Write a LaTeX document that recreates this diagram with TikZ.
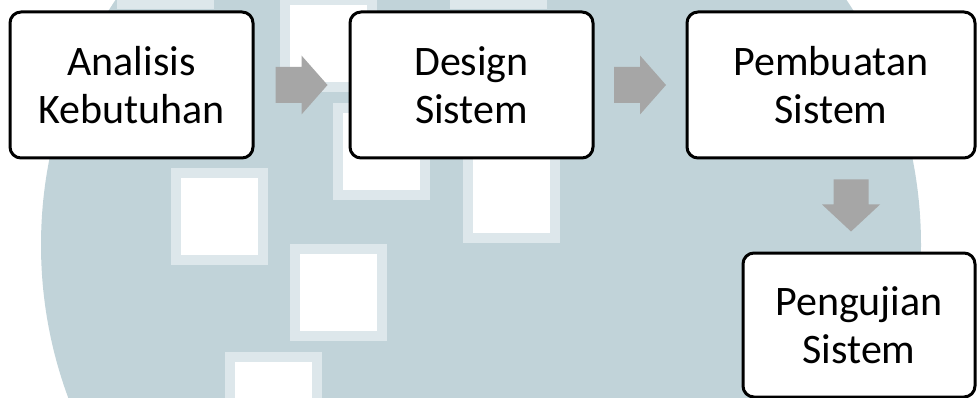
\documentclass[tikz,border=0pt]{standalone}
\usepackage{fontspec}
\setmainfont{Carlito}
\usetikzlibrary{calc}
\definecolor{wmblue}{RGB}{193,211,217}
\definecolor{wmfringe}{RGB}{221,231,235}
\definecolor{arrowgray}{RGB}{166,166,166}

\begin{document}
\begin{tikzpicture}[x=1pt,y=-1pt,
  stage/.style={draw=black, line width=3pt, rounded corners=11pt, fill=white,
    inner sep=0pt, align=center, font=\fontsize{42}{48}\selectfont},
  flow/.style={fill=arrowgray, draw=none}]
\useasboundingbox (0,0) rectangle (977,398);

% background: pale disc with scattered light squares
\begin{scope}
  \clip (0,0) rectangle (977,398);
  \fill[white] (0,0) rectangle (977,398);
  \fill[wmblue] (481,245) circle[radius=440pt];
  \foreach \sx/\sy in {171/168, 290/244, 333/103, 225/352, 463/146, 280/-5, 117/-88, 450/-88} {
    \fill[wmfringe] (\sx,\sy) rectangle ++(97,97);
    \fill[white] (\sx+10,\sy+10) rectangle ++(77,77);
  }
\end{scope}

% process stages
\node[stage, minimum width=243pt, minimum height=146pt] (a) at (131.5,85) {Analisis\\Kebutuhan};
\node[stage, minimum width=243pt, minimum height=146pt] (d) at (471.5,85) {Design\\Sistem};
\node[stage, minimum width=288pt, minimum height=146pt] (p) at (831,85) {Pembuatan\\Sistem};
\node[stage, minimum width=232pt, minimum height=144pt] (u) at (859,325) {Pengujian\\Sistem};

% block arrows between the stages
\coordinate (m1) at ($(a.east)!0.5!(d.west)$);
\coordinate (m2) at ($(d.east)!0.5!(p.west)$);
\coordinate (m3) at ($($(p.south)!0.5!(u.north)$)+(6,0)$);
\foreach \m in {m1,m2} {
  \fill[flow] ($(\m)+(-26,-18)$) -- ($(\m)+(0,-18)$) -- ($(\m)+(0,-29.5)$)
    -- ($(\m)+(26,0)$) -- ($(\m)+(0,29.5)$) -- ($(\m)+(0,18)$)
    -- ($(\m)+(-26,18)$) -- cycle;
}
\fill[flow] ($(m3)+(-17.5,-26)$) -- ($(m3)+(17.5,-26)$) -- ($(m3)+(17.5,-1)$)
  -- ($(m3)+(29,-1)$) -- ($(m3)+(0,26)$) -- ($(m3)+(-29,-1)$)
  -- ($(m3)+(-17.5,-1)$) -- cycle;
\end{tikzpicture}
\end{document}
